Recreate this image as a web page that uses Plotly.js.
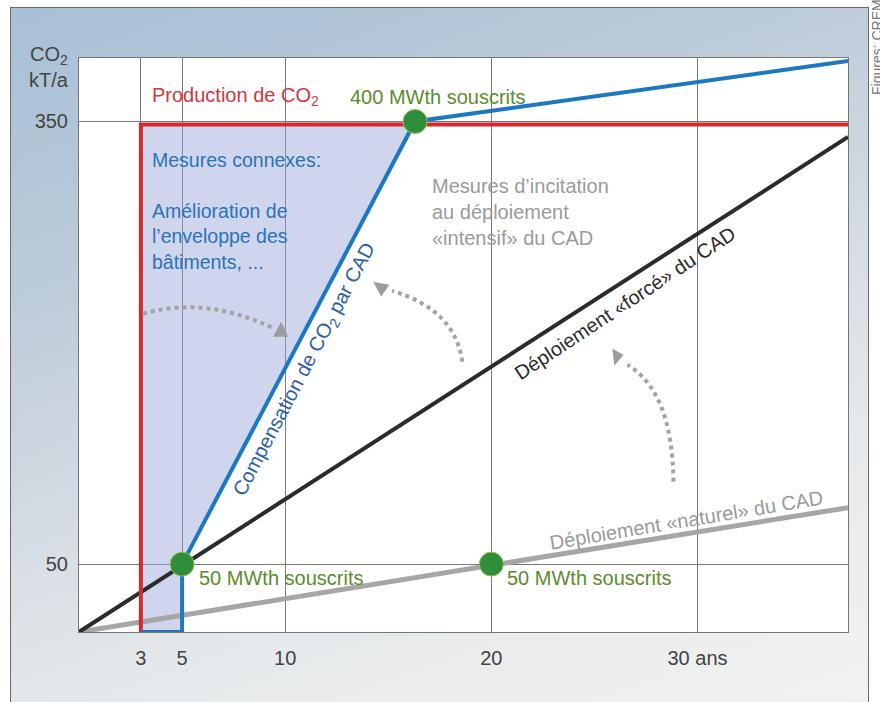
<!DOCTYPE html>
<html><head><meta charset="utf-8">
<script src="https://cdn.plot.ly/plotly-3.0.1.min.js"></script>
<style>
html,body{margin:0;padding:0;background:#fff;width:880px;height:702px;overflow:hidden;}
#bg{position:absolute;left:10px;top:7px;width:857px;height:700px;border:1px solid #6a6a6a;
 background:linear-gradient(160deg,#a8c0d6 0%,#b9c9d8 25%,#d2dae2 50%,#e6e9eb 72%,#f2f2f2 100%);}
#chart{position:absolute;left:0;top:0;width:880px;height:702px;}
</style></head><body>
<div id="bg"></div><div id="chart"></div>
<script>
// ---- data ----
const productionX = [3, 3, 37.3];
const productionY = [4, 348, 348];
const compensationX = [3, 5, 5, 16.3, 37.3];
const compensationY = [4, 4, 50, 350, 391];
const connexesX = [3, 5, 5, 16.3, 3];
const connexesY = [4, 4, 50, 350, 348];
const forceX = [0, 37.3];
const forceY = [4, 339.5];
const naturelX = [0, 37.3];
const naturelY = [4, 88.3];
const milestoneX = [5, 20, 16.3];
const milestoneY = [50, 50, 350];
const xTickVals = [3, 5, 10, 20, 30];
const xTickText = ['3', '5', '10', '20', '30 ans'];
const yTickVals = [50, 350];
const yTickText = ['50', '350'];

const FONT = 'Liberation Sans, Arial, Helvetica, sans-serif';
const RED = '#d7282f', BLUE = '#1c78c0', BLACK = '#2b2b2b', GRAY = '#a6a6a6', GREEN = '#2f8d3c';

const traces = [
  {x: connexesX, y: connexesY, mode: 'lines', fill: 'toself', fillcolor: 'rgba(150,165,215,0.47)',
   line: {width: 0}, hoverinfo: 'skip', cliponaxis: false},
  {x: naturelX, y: naturelY, mode: 'lines', line: {color: GRAY, width: 5}, cliponaxis: false},
  {x: forceX, y: forceY, mode: 'lines', line: {color: BLACK, width: 4}, cliponaxis: false},
  {x: productionX, y: productionY, mode: 'lines', line: {color: RED, width: 4}, cliponaxis: false},
  {x: compensationX, y: compensationY, mode: 'lines', line: {color: BLUE, width: 4}, cliponaxis: false},
  {x: milestoneX, y: milestoneY, mode: 'markers',
   marker: {color: GREEN, size: 24, line: {color: '#9cc24a', width: 1}}, cliponaxis: false}
];

function ann(text, x, y, color, opts) {
  return Object.assign({text: text, x: x, y: y, xref: 'x', yref: 'y', showarrow: false,
    font: {family: FONT, size: 20, color: color}, xanchor: 'left', yanchor: 'middle', align: 'left'}, opts || {});
}

const annotations = [
  {text: 'CO<sub>2</sub><br>kT/a', xref: 'paper', yref: 'paper', x: -0.011, y: 0.985, showarrow: false,
   xanchor: 'right', yanchor: 'middle', align: 'right', font: {family: FONT, size: 20, color: '#444'}},
  ann('Production de CO<sub>2</sub>', 3.45, 366.6, '#d0383a'),
  ann('400 MWth souscrits', 13.06, 366.6, '#5b8c2c'),
  ann('Mesures connexes:', 3.45, 324, '#2a74b8', {font: {family: FONT, size: 19.5, color: '#2a74b8'}}),
  ann('Amélioration de<br>l\u2019enveloppe des<br>bâtiments, ...', 3.45, 272, '#2a74b8', {font: {family: FONT, size: 19.5, color: '#2a74b8'}}),
  ann('Mesures d\u2019incitation<br>au déploiement<br>«intensif» du CAD', 17.04, 288.7, '#9a9a9a'),
  ann('50 MWth souscrits', 5.73, 40.9, '#5b8c2c'),
  ann('50 MWth souscrits', 20.68, 40.9, '#5b8c2c'),
  ann('Compensation de CO<sub>2</sub> par CAD', 10.97, 181.7, '#2b5fa6', {xanchor: 'center', textangle: -62.3}),
  ann('Déploiement «forcé» du CAD', 26.5, 226.8, '#2b2b2b', {xanchor: 'center', textangle: -33.5}),
  ann('Déploiement «naturel» du CAD', 29.47, 80, '#9a9a9a', {xanchor: 'center', textangle: -9.5}),
  {text: 'Figures: CREM', xref: 'paper', yref: 'paper', x: 1.037, y: 1.02, showarrow: false,
   textangle: -90, font: {family: FONT, size: 14, color: '#777'}, xanchor: 'center', yanchor: 'middle'}
];

function dotted(x0, y0, cx, cy, x1, y1) {
  return {type: 'path', xref: 'x', yref: 'y', path: `M ${x0},${y0} Q ${cx},${cy} ${x1},${y1}`,
    line: {color: '#a3a3a3', width: 4, dash: 'dot'}};
}
function head(a, b, c) {
  return {type: 'path', xref: 'x', yref: 'y', path: `M ${a[0]},${a[1]} L ${b[0]},${b[1]} L ${c[0]},${c[1]} Z`,
    fillcolor: '#9c9c9c', line: {width: 0}};
}
const shapes = [
  dotted(3.107, 219.7, 6.117, 231.8, 9.369, 210.2),
  head([9.806, 214.4], [9.417, 204.1], [10.146, 204.1]),
  dotted(18.59, 187.2, 18.25, 222.4, 15.19, 235.2),
  head([14.27, 241.3], [15.05, 239.3], [14.66, 231.2]),
  dotted(28.83, 105.9, 28.79, 166.8, 26.60, 185.1),
  head([25.87, 196], [26.41, 191.9], [25.97, 184.4])
];

const axisCommon = {showline: true, mirror: true, linecolor: '#777', linewidth: 1,
  showgrid: true, gridcolor: '#7a7a7a', gridwidth: 1, zeroline: false, ticks: '',
  tickfont: {family: FONT, size: 20, color: '#444'}, fixedrange: true};

const layout = {
  width: 880, height: 702,
  margin: {l: 79, r: 32, t: 58, b: 70, pad: 0},
  paper_bgcolor: 'rgba(0,0,0,0)', plot_bgcolor: '#ffffff',
  showlegend: false,
  xaxis: Object.assign({}, axisCommon, {range: [0, 37.3], tickmode: 'array', tickvals: xTickVals, ticktext: xTickText, ticklabelstandoff: 8}),
  yaxis: Object.assign({}, axisCommon, {range: [4, 393], tickmode: 'array', tickvals: yTickVals, ticktext: yTickText, ticklabelstandoff: 6}),
  annotations: annotations,
  shapes: shapes
};

Plotly.newPlot('chart', traces, layout, {displayModeBar: false, staticPlot: true});
</script>
</body></html>
